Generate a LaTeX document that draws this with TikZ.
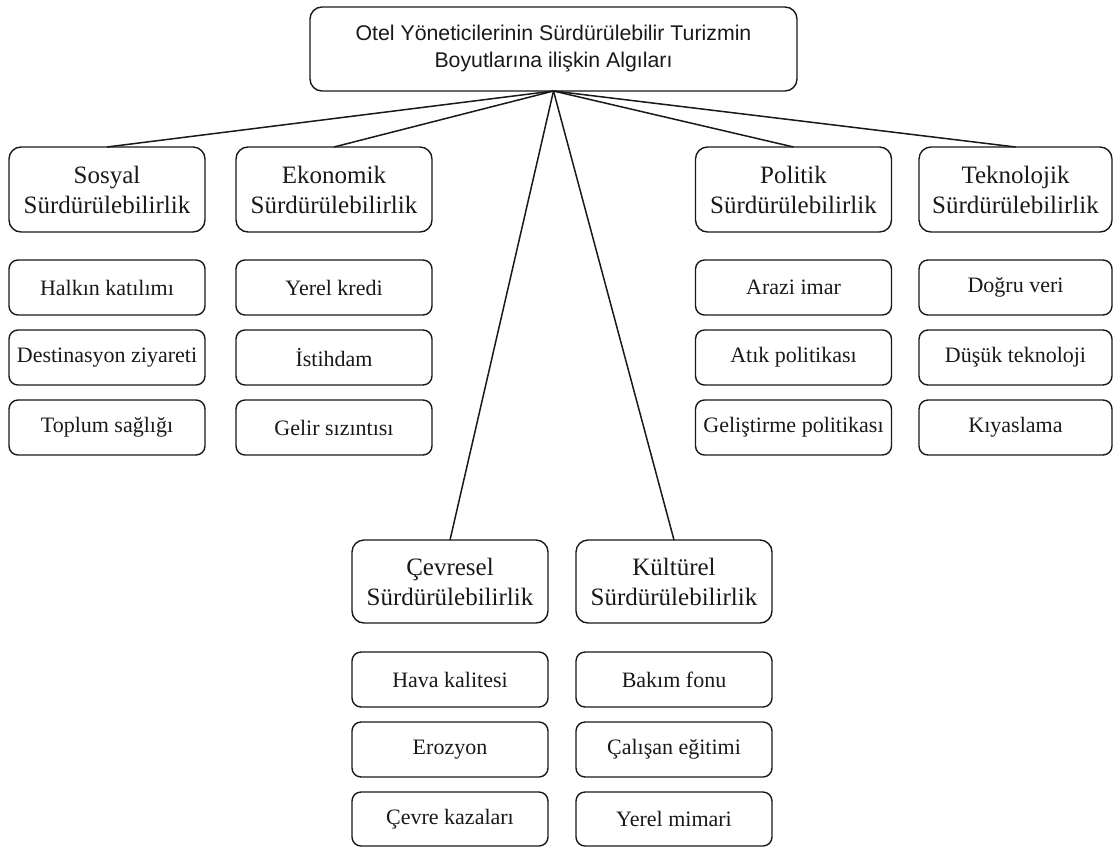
\documentclass[tikz,border=0pt]{standalone}
\usepackage{fontspec}
\setmainfont{Liberation Serif}
\newfontfamily\arialf{Liberation Sans}
\begin{document}
\begin{tikzpicture}[x=1pt,y=-1pt,
  every node/.style={inner sep=0pt, outer sep=0pt, text=black!90},
  topbox/.style={draw=black!90, line width=1.4pt, rounded corners=12pt, minimum width=487pt, minimum height=84pt, align=center, font=\arialf\fontsize{21.3}{27}\selectfont},
  catbox/.style={draw=black!90, line width=1.4pt, rounded corners=12pt, minimum width=196pt, minimum height=85pt, align=center, font=\fontsize{25}{30}\selectfont},
  leafbox/.style={draw=black!90, line width=1.4pt, rounded corners=9pt, minimum width=196pt, minimum height=55pt, align=center, font=\fontsize{22}{26}\selectfont},
  link/.style={draw=black!90, line width=1.5pt}]
\useasboundingbox (0,0) rectangle (1113,847);
\node[topbox] (top) at (553.5,49) {Otel Yöneticilerinin Sürdürülebilir Turizmin\\Boyutlarına ilişkin Algıları};
% categories
\node[catbox] (sos) at (107,189.5) {Sosyal\\Sürdürülebilirlik};
\node[catbox] (eko) at (334,189.5) {Ekonomik\\Sürdürülebilirlik};
\node[catbox] (pol) at (793.5,189.5) {Politik\\Sürdürülebilirlik};
\node[catbox, minimum width=193pt] (tek) at (1015.5,189.5) {Teknolojik\\Sürdürülebilirlik};
\node[catbox, minimum height=83pt] (cev) at (450,581.5) {Çevresel\\Sürdürülebilirlik};
\node[catbox, minimum height=83pt] (kul) at (674,581.5) {Kültürel\\Sürdürülebilirlik};
% leaves
\node[leafbox] (s1) at (107,287.5) {Halkın katılımı};
\node[leafbox] (s2) at (107,357.5) {Destinasyon ziyareti};
\node[leafbox] (s3) at (107,427.5) {Toplum sağlığı};
\node[leafbox] (e1) at (334,287.5) {Yerel kredi};
\node[leafbox] (e2) at (334,357.5) {İstihdam};
\node[leafbox] (e3) at (334,427.5) {Gelir sızıntısı};
\node[leafbox] (p1) at (793.5,287.5) {Arazi imar};
\node[leafbox] (p2) at (793.5,357.5) {Atık politikası};
\node[leafbox] (p3) at (793.5,427.5) {Geliştirme politikası};
\node[leafbox, minimum width=193pt] (t1) at (1015.5,287.5) {Doğru veri};
\node[leafbox, minimum width=193pt] (t2) at (1015.5,357.5) {Düşük teknoloji};
\node[leafbox, minimum width=193pt] (t3) at (1015.5,427.5) {Kıyaslama};
\node[leafbox] (c1) at (450,679.5) {Hava kalitesi};
\node[leafbox] (c2) at (450,749.5) {Erozyon};
\node[leafbox, minimum height=54pt] (c3) at (450,819) {Çevre kazaları};
\node[leafbox] (k1) at (674,679.5) {Bakım fonu};
\node[leafbox] (k2) at (674,749.5) {Çalışan eğitimi};
\node[leafbox, minimum height=54pt] (k3) at (674,819) {Yerel mimari};
% connectors
\foreach \c in {sos,eko,pol,tek,cev,kul}
  \draw[link] (top.south) -- (\c.north);
\end{tikzpicture}
\end{document}
